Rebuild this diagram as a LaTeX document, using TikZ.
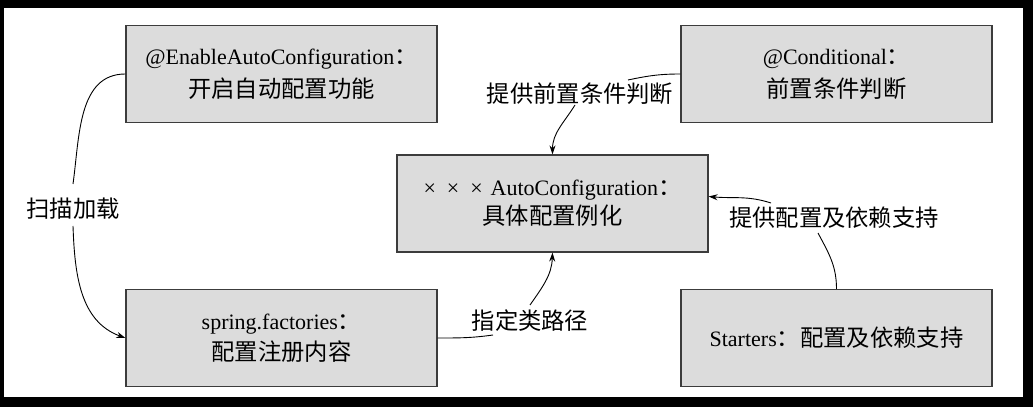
\documentclass[tikz,border=0pt]{standalone}
\usepackage{fontspec}
\setmainfont{Liberation Serif}
\newfontfamily\cjk[Scale=1.06]{Noto Sans CJK SC}
\usetikzlibrary{arrows.meta,calc}
\definecolor{boxfill}{RGB}{220,220,220}
\definecolor{boxline}{RGB}{60,60,60}
\tikzset{
  box/.style={draw=boxline, fill=boxfill, line width=1.2pt, minimum width=311pt,
    minimum height=97pt, inner sep=0pt, align=center, font=\fontsize{22}{33}\selectfont},
  lbl/.style={inner sep=0pt, font=\fontsize{22}{26}\selectfont\cjk},
  conn/.style={line width=0.9pt, black},
  arr/.style={conn, -{Stealth[length=9pt,width=6pt]}}
}
\begin{document}
\begin{tikzpicture}[x=1pt,y=1pt]
\fill[black] (0,0) rectangle (1033,407);
\fill[white] (4,10) rectangle (1023,399);
\useasboundingbox (0,0) rectangle (1033,407);

\node[box] (enable) at (281.5,333) {@EnableAutoConfiguration{\cjk ：}\\{\cjk 开启自动配置功能}};
\node[box] (cond) at (836.5,333) {@Conditional{\cjk ：}\\{\cjk 前置条件判断}};
\node[box, font=\fontsize{22}{29}\selectfont] (auto) at (552.5,203.5) {×\hspace{11pt}×\hspace{11pt}×\hspace{8pt}AutoConfiguration{\cjk ：}\\{\cjk 具体配置例化}};
\node[box, font=\fontsize{22}{31}\selectfont] (spring) at (281.5,69) {spring.factories{\cjk ：}\\{\cjk 配置注册内容}};
\node[box] (starters) at (836.5,69) {Starters{\cjk ：配置及依赖支持}};

\node[lbl] (scan) at (73,198) {扫描加载};
\node[lbl] (condl) at (580,313) {提供前置条件判断};
\node[lbl] (depl) at (834,189) {提供配置及依赖支持};
\node[lbl] (pathl) at (530,86) {指定类路径};

\draw[conn] (enable.west) to[out=180,in=82] ($(scan)+(0,25)$);
\draw[arr] ($(scan)+(0,-17)$) to[out=-88,in=160] (spring.west);

\draw[conn] (cond.west) to[out=180,in=12] ($(condl)+(48,14)$);
\draw[arr] ($(condl)+(-5,-11)$) to[out=-122,in=90] (auto.north);

\draw[conn] (starters.north) to[out=90,in=-62] ($(depl)+(-16,-15)$);
\draw[arr] ($(depl)+(-63,15)$) to[out=162,in=-5] ([yshift=7pt]auto.east);

\draw[conn] (spring.east) to[out=0,in=188] ($(pathl)+(-37,-14)$);
\draw[arr] ($(pathl)+(0,16)$) to[out=55,in=-92] (auto.south);
\end{tikzpicture}
\end{document}
